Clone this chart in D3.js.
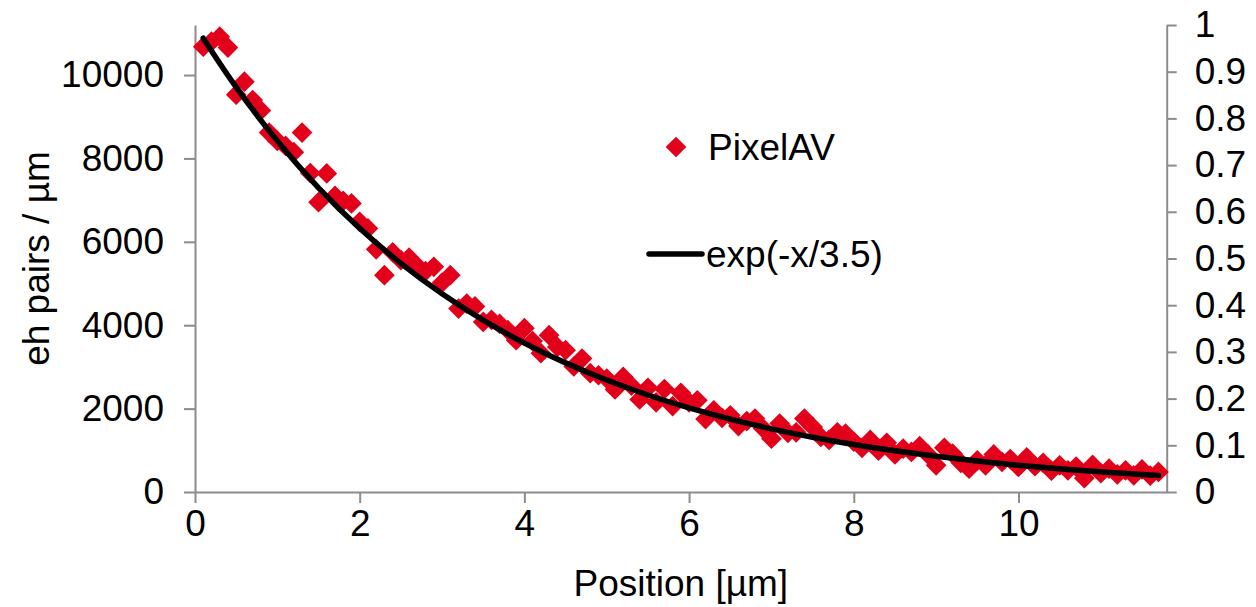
<!DOCTYPE html>
<html>
<head>
<meta charset="utf-8">
<script src="https://cdn.jsdelivr.net/npm/d3@7"></script>
<style>
  html, body { margin: 0; padding: 0; background: #ffffff; }
  svg { display: block; }
  text { font-family: "Liberation Sans", Arial, sans-serif; fill: #000; }
</style>
</head>
<body>
<svg id="chart" width="1256" height="607"></svg>
<script>
// Position along the depth, µm
const positions = [
  0.1, 0.2, 0.3, 0.4, 0.5, 0.6, 0.7, 0.8, 0.9, 1.0,
  1.1, 1.2, 1.3, 1.4, 1.5, 1.6, 1.7, 1.8, 1.9, 2.0,
  2.1, 2.2, 2.3, 2.4, 2.5, 2.6, 2.7, 2.8, 2.9, 3.0,
  3.1, 3.2, 3.3, 3.4, 3.5, 3.6, 3.7, 3.8, 3.9, 4.0,
  4.1, 4.2, 4.3, 4.4, 4.5, 4.6, 4.7, 4.8, 4.9, 5.0,
  5.1, 5.2, 5.3, 5.4, 5.5, 5.6, 5.7, 5.8, 5.9, 6.0,
  6.1, 6.2, 6.3, 6.4, 6.5, 6.6, 6.7, 6.8, 6.9, 7.0,
  7.1, 7.2, 7.3, 7.4, 7.5, 7.6, 7.7, 7.8, 7.9, 8.0,
  8.1, 8.2, 8.3, 8.4, 8.5, 8.6, 8.7, 8.8, 8.9, 9.0,
  9.1, 9.2, 9.3, 9.4, 9.5, 9.6, 9.7, 9.8, 9.9, 10.0,
  10.1, 10.2, 10.3, 10.4, 10.5, 10.6, 10.7, 10.8, 10.9, 11.0,
  11.1, 11.2, 11.3, 11.4, 11.5, 11.6, 11.7
];

// PixelAV simulated electron-hole pairs per µm at each position
const pixelAV = [
  10680, 10800, 10920, 10660, 9530, 9840, 9400, 9150, 8620, 8420,
  8300, 8150, 8620, 7650, 6950, 7640, 7100, 6980, 6920, 6480,
  6320, 5820, 5200, 5750, 5560, 5620, 5420, 5300, 5400, 5020,
  5200, 4400, 4520, 4450, 4080, 4130, 4030, 3880, 3640, 3930,
  3620, 3330, 3760, 3480, 3400, 3010, 3200, 2850, 2800, 2720,
  2460, 2760, 2550, 2220, 2500, 2150, 2470, 2060, 2380, 2150,
  2200, 1750, 1960, 1780, 1840, 1580, 1700, 1760, 1520, 1280,
  1640, 1420, 1430, 1760, 1560, 1320, 1250, 1430, 1400, 1210,
  1060, 1250, 990, 1180, 900, 1040, 960, 1100, 900, 640,
  1060, 920, 700, 560, 760, 640, 900, 720, 790, 600,
  830, 620, 700, 510, 640, 520, 610, 330, 650, 450,
  560, 420, 520, 400, 540, 390, 480
];

// Reference curve exp(-x/3.5), tabulated (right axis)
const curveX = [0.1, 0.5, 1.0, 1.5, 2.0, 2.5, 3.0, 3.5, 4.0, 4.5, 5.0, 5.5, 6.0,
  6.5, 7.0, 7.5, 8.0, 8.5, 9.0, 9.5, 10.0, 10.5, 11.0, 11.5, 11.7];
const curveY = [0.9718, 0.8669, 0.7515, 0.6514, 0.5647, 0.4895, 0.4244, 0.3679,
  0.3189, 0.2765, 0.2397, 0.2077, 0.1801, 0.1561, 0.1353, 0.1173, 0.1017,
  0.0882, 0.0764, 0.0662, 0.0574, 0.0498, 0.0432, 0.0374, 0.0353];

const xTicks = [0, 2, 4, 6, 8, 10];
const leftTicks = [0, 2000, 4000, 6000, 8000, 10000];
const rightTicks = [0, 0.1, 0.2, 0.3, 0.4, 0.5, 0.6, 0.7, 0.8, 0.9, 1];

const xLabel = "Position [µm]";
const yLabel = "eh pairs / µm";
const seriesNames = ["PixelAV", "exp(-x/3.5)"];

// Layout
const plot = { left: 195, right: 1166.7, top: 25, bottom: 492 };
const axisColor = "#8c8c8c";
const red = "#e2001a";
const fontSize = 37;

const svg = d3.select("#chart");

const x = d3.scaleLinear().domain([0, 11.8]).range([plot.left, plot.right]);
const yLeft = d3.scaleLinear().domain([0, 11200]).range([plot.bottom, plot.top]);
const yRight = d3.scaleLinear().domain([0, 1]).range([plot.bottom, plot.top]);

function styleAxis(g) {
  g.selectAll(".domain").attr("stroke", axisColor).attr("stroke-width", 2);
  g.selectAll(".tick line").attr("stroke", axisColor).attr("stroke-width", 2);
  g.selectAll(".tick text")
    .attr("font-size", fontSize)
    .attr("font-family", '"Liberation Sans", Arial, sans-serif')
    .attr("fill", "#000");
}

// Bottom axis
svg.append("g")
  .attr("transform", `translate(0,${plot.bottom})`)
  .call(d3.axisBottom(x).tickValues(xTicks).tickSize(11).tickSizeOuter(0).tickPadding(4).tickFormat(d3.format("d")))
  .call(styleAxis)
  .call(g => g.selectAll(".tick text").attr("dy", "0.78em"));

// Left axis
svg.append("g")
  .attr("transform", `translate(${plot.left},0)`)
  .call(d3.axisLeft(yLeft).tickValues(leftTicks).tickSize(11).tickSizeOuter(0).tickPadding(20).tickFormat(d3.format("d")))
  .call(styleAxis);

// Right axis
svg.append("g")
  .attr("transform", `translate(${plot.right},0)`)
  .call(d3.axisRight(yRight).tickValues(rightTicks).tickSize(10).tickSizeOuter(0).tickPadding(18).tickFormat(d => d3.format("")(+d.toFixed(1))))
  .call(styleAxis);

// Data markers: square rotated 45° (diamond)
const diamond = d3.symbol().type(d3.symbolSquare).size(215);
const points = positions.map((p, i) => ({ x: p, y: pixelAV[i] }));

svg.append("g")
  .selectAll("path")
  .data(points)
  .join("path")
  .attr("d", diamond)
  .attr("transform", d => `translate(${x(d.x)},${yLeft(d.y)}) rotate(45)`)
  .attr("fill", red);

// Reference exponential on the right axis
const line = d3.line()
  .x((d, i) => x(curveX[i]))
  .y(d => yRight(d))
  .curve(d3.curveNatural);

svg.append("path")
  .datum(curveY)
  .attr("d", line)
  .attr("fill", "none")
  .attr("stroke", "#000")
  .attr("stroke-width", 5.5)
  .attr("stroke-linecap", "round")
  .attr("stroke-linejoin", "round");

// Legend
const legend = svg.append("g");
legend.append("path")
  .attr("d", diamond)
  .attr("transform", "translate(676,147) rotate(45)")
  .attr("fill", red);
legend.append("text")
  .attr("x", 708).attr("y", 147).attr("dy", "0.35em")
  .attr("font-size", fontSize)
  .text(seriesNames[0]);
legend.append("line")
  .attr("x1", 649).attr("x2", 702).attr("y1", 254).attr("y2", 254)
  .attr("stroke", "#000").attr("stroke-width", 5.5).attr("stroke-linecap", "round");
legend.append("text")
  .attr("x", 706).attr("y", 254).attr("dy", "0.35em")
  .attr("font-size", fontSize)
  .text(seriesNames[1]);

// Axis titles
svg.append("text")
  .attr("x", (plot.left + plot.right) / 2)
  .attr("y", 583).attr("dy", "0.35em")
  .attr("text-anchor", "middle")
  .attr("font-size", fontSize)
  .text(xLabel);

svg.append("text")
  .attr("transform", `translate(36,${(plot.top + plot.bottom) / 2}) rotate(-90)`)
  .attr("dy", "0.35em")
  .attr("text-anchor", "middle")
  .attr("font-size", fontSize)
  .text(yLabel);
</script>
</body>
</html>
